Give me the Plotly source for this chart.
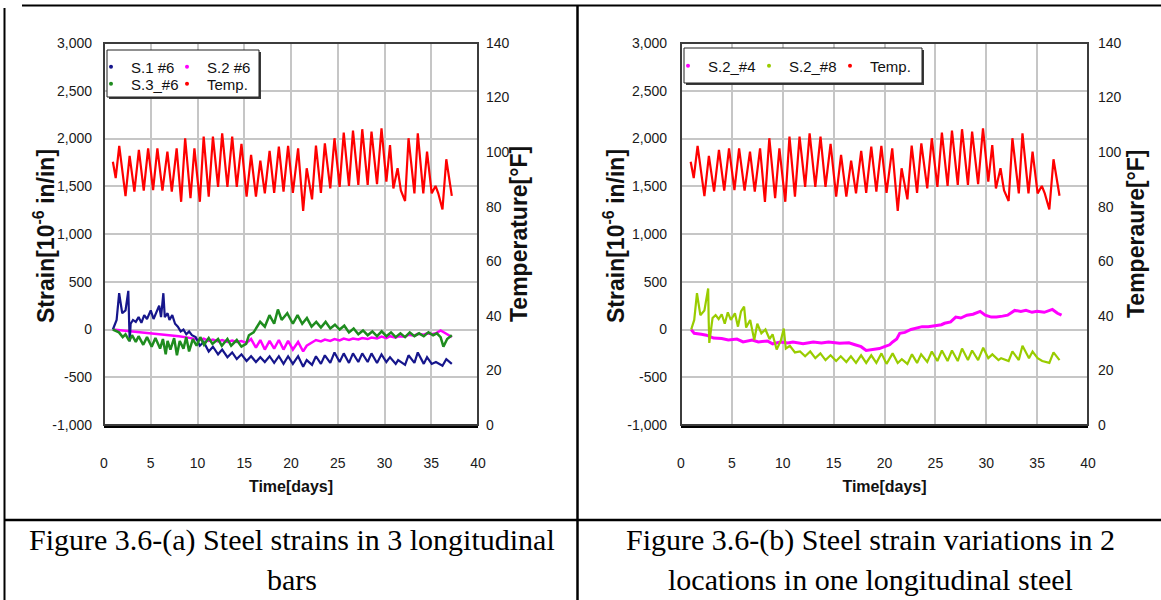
import plotly.graph_objects as go

W, H = 1161, 600

# ---------------- data ----------------
x_ticks = [0, 5, 10, 15, 20, 25, 30, 35, 40]
strain_ticks = [-1000, -500, 0, 500, 1000, 1500, 2000, 2500, 3000]
strain_tick_text = ["-1,000", "-500", "0", "500", "1,000", "1,500", "2,000", "2,500", "3,000"]
temp_ticks = [0, 20, 40, 60, 80, 100, 120, 140]

temp_day = [0.95, 1.25, 1.63, 2.3, 2.74, 3.25, 3.73, 4.25, 4.72, 5.25, 5.71, 6.25, 6.78, 7.25,
            7.77, 8.25, 8.68, 9.25, 9.67, 10.25, 10.66, 11.2, 11.65, 12.2, 12.64, 13.2, 13.71,
            14.2, 14.7, 15.25, 15.73, 16.25, 16.72, 17.2, 17.71, 18.2, 18.7, 19.2, 19.69, 20.2,
            20.76, 21.3, 21.68, 22.25, 22.67, 23.2, 23.62, 24.2, 24.65, 25.2, 25.64, 26.2, 26.63,
            27.2, 27.62, 28.2, 28.61, 29.2, 29.68, 30.2, 30.59, 30.95, 31.4, 31.75, 32.2, 32.57,
            33.2, 33.56, 34.15, 34.55, 35.05, 35.46, 35.75, 36.2, 36.61, 37.2]
temp_f = [96.5, 90.5, 102.3, 83.9, 98.6, 85.5, 100.8, 85.9, 101.4, 86.1, 101.4, 85.9, 100.2, 85.5,
          101.4, 81.8, 105.1, 83.1, 101.4, 81.8, 105.7, 83.7, 105.7, 87.3, 106.9, 87.3, 105.7,
          87.3, 103.0, 83.7, 99.0, 83.7, 96.9, 84.9, 100.5, 85.1, 102.0, 85.5, 102.3, 85.1,
          101.4, 78.5, 94.1, 82.7, 102.4, 85.1, 103.2, 86.7, 105.1, 87.3, 107.2, 87.6, 107.9,
          88.0, 108.4, 88.0, 107.5, 88.3, 108.7, 89.2, 102.6, 86.7, 94.1, 86.0, 82.1, 105.1,
          84.9, 106.9, 84.9, 100.2, 84.9, 87.6, 84.9, 79.0, 97.4, 84.0]

# (day, strain) pairs
s1_6 = [(0.95, 0), (1.35, 100), (1.62, 380), (1.95, 170), (2.3, 200), (2.6, 405), (2.68, 100),
        (2.75, -125), (2.85, 60), (3.1, 100), (3.4, 80), (3.7, 130), (4.0, 70), (4.3, 150),
        (4.6, 110), (5.0, 200), (5.3, 110), (5.6, 180), (5.9, 250), (6.1, 130), (6.35, 380),
        (6.5, 130), (6.8, 170), (7.0, 100), (7.3, 150), (7.6, 60), (7.9, 30), (8.2, -20),
        (8.5, 0), (8.8, -50), (9.1, -20), (9.4, -60), (9.8, -80), (10.25, -170), (10.66, -130),
        (11.2, -230), (11.65, -180), (12.2, -260), (12.64, -210), (13.2, -290), (13.71, -240),
        (14.2, -310), (14.7, -260), (15.25, -330), (15.73, -280), (16.25, -340), (16.72, -290),
        (17.2, -340), (17.71, -280), (18.2, -350), (18.7, -280), (19.2, -360), (19.69, -280),
        (20.2, -360), (20.76, -280), (21.3, -390), (21.68, -320), (22.25, -370), (22.67, -280),
        (23.2, -360), (23.62, -270), (24.2, -350), (24.65, -240), (25.2, -340), (25.64, -250),
        (26.2, -350), (26.63, -250), (27.2, -340), (27.62, -250), (28.2, -340), (28.61, -250),
        (29.2, -350), (29.68, -260), (30.2, -340), (30.59, -290), (31.2, -360), (31.46, -320),
        (32.2, -370), (32.57, -270), (33.2, -350), (33.56, -240), (34.2, -360), (34.55, -290),
        (35.05, -360), (35.5, -340), (36.2, -380), (36.61, -310), (37.2, -360)]

s2_6 = [(0.95, 0), (2, -10), (3, -20), (4, -25), (5, -35), (6, -45), (7, -55), (8, -70), (9, -85),
        (9.8, -100), (10.25, -110), (10.66, -95), (11.2, -120), (11.65, -105), (12.2, -125),
        (12.64, -110), (13.2, -130), (13.71, -115), (14.2, -130), (14.7, -120), (15.25, -140),
        (15.73, -100), (16.25, -190), (16.72, -110), (17.2, -210), (17.71, -120), (18.2, -200),
        (18.7, -110), (19.2, -210), (19.69, -120), (20.2, -210), (20.76, -130), (21.3, -230),
        (21.68, -170), (22.25, -130), (22.67, -110), (23.2, -125), (23.62, -105), (24.2, -120),
        (24.65, -100), (25.2, -115), (25.64, -95), (26.2, -110), (26.63, -95), (27.2, -105),
        (27.62, -90), (28.2, -100), (28.61, -85), (29.2, -95), (29.68, -75), (30.2, -90),
        (30.59, -70), (31.2, -85), (31.46, -70), (32.2, -75), (32.57, -55), (33.2, -65),
        (33.56, -45), (34.2, -55), (34.55, -40), (35.05, -50), (35.5, -40), (36.0, -10),
        (36.3, -30), (36.7, -50), (37.2, -80)]

s3_6 = [(0.95, 0), (1.3, -20), (1.6, -30), (2.0, -80), (2.3, -50), (2.7, -120), (3.0, -60),
        (3.4, -130), (3.7, -70), (4.2, -160), (4.6, -80), (5.1, -180), (5.5, -90), (6.0, -200),
        (6.3, -100), (6.6, -260), (6.8, -120), (7.1, -210), (7.5, -90), (7.8, -270), (8.1, -120),
        (8.5, -200), (8.8, -80), (9.1, -230), (9.5, -100), (9.9, -170), (10.3, -80), (10.7, -160),
        (11.2, -90), (11.6, -150), (12.2, -100), (12.6, -170), (13.2, -100), (13.6, -170),
        (14.2, -110), (14.7, -180), (15.2, -150), (15.5, -60), (16.0, -30), (16.7, 80),
        (17.2, 30), (17.7, 150), (18.2, 60), (18.6, 210), (19.0, 100), (19.6, 170), (20.2, 60),
        (20.7, 150), (21.2, 60), (21.7, 120), (22.2, 30), (22.7, 80), (23.2, 20), (23.7, 80),
        (24.2, 10), (24.7, 50), (25.2, 0), (25.7, 40), (26.2, -30), (26.7, 10), (27.2, -50),
        (27.7, -10), (28.2, -60), (28.7, -20), (29.2, -70), (29.7, -20), (30.2, -70),
        (30.7, -30), (31.2, -80), (31.7, -40), (32.2, -80), (32.7, -30), (33.2, -70),
        (33.7, -40), (34.2, -70), (34.7, -30), (35.2, -60), (35.6, -40), (36.0, -80),
        (36.3, -180), (36.7, -100), (37.2, -60)]

s2_4 = [(1.0, 0), (1.3, -40), (2.0, -50), (2.5, -60), (3.2, -90), (4.0, -95), (4.65, -110),
        (5.5, -100), (6.1, -130), (7.0, -110), (7.6, -130), (8.5, -120), (9.0, -150),
        (9.8, -130), (10.5, -140), (11.0, -130), (12.0, -150), (13.0, -130), (13.8, -140),
        (14.5, -130), (15.6, -145), (16.5, -140), (17.1, -160), (17.7, -180), (18.2, -220),
        (18.9, -210), (19.5, -200), (20.0, -180), (20.5, -160), (20.8, -130), (21.2, -100),
        (21.5, -40), (22.0, -30), (22.6, 0), (23.2, 20), (23.7, 30), (24.3, 30), (25.1, 40),
        (25.6, 50), (25.9, 65), (26.5, 80), (27.0, 130), (27.5, 120), (28.1, 150), (28.7, 160),
        (29.4, 190), (29.9, 150), (30.5, 130), (31.0, 130), (31.6, 140), (32.1, 150),
        (32.8, 200), (33.4, 190), (33.9, 200), (34.5, 180), (35.0, 190), (35.7, 180),
        (36.5, 210), (37.0, 170), (37.4, 150)]

s2_8 = [(1.0, 0), (1.3, 100), (1.57, 380), (1.9, 150), (2.3, 200), (2.67, 430), (2.72, 100),
        (2.78, -140), (3.1, 120), (3.4, 150), (3.7, 110), (4.0, 160), (4.3, 60), (4.6, 180),
        (4.9, 100), (5.3, 170), (5.6, 30), (5.9, 190), (6.2, 240), (6.4, 20), (6.8, 100),
        (7.2, -110), (7.5, 60), (7.9, -40), (8.3, 0), (8.7, -100), (9.0, -50), (9.4, -210),
        (9.8, -120), (10.1, 10), (10.3, -200), (10.7, -170), (11.2, -240), (11.7, -230),
        (12.2, -280), (12.7, -230), (13.2, -300), (13.7, -250), (14.2, -320), (14.7, -270),
        (15.25, -330), (15.7, -280), (16.25, -340), (16.7, -280), (17.2, -350), (17.7, -270),
        (18.2, -350), (18.7, -270), (19.2, -350), (19.7, -250), (20.2, -360), (20.8, -250),
        (21.3, -350), (21.7, -310), (22.25, -360), (22.7, -260), (23.2, -350), (23.6, -260),
        (24.2, -340), (24.65, -230), (25.2, -330), (25.64, -220), (26.2, -330), (26.63, -220),
        (27.2, -330), (27.62, -200), (28.2, -320), (28.61, -220), (29.2, -320), (29.7, -190),
        (30.2, -300), (30.6, -260), (31.2, -320), (31.46, -300), (32.2, -330), (32.57, -230),
        (33.2, -320), (33.56, -170), (34.2, -300), (34.55, -230), (35.05, -300), (35.5, -330),
        (36.2, -350), (36.61, -240), (37.2, -320)]


def unzip(pairs):
    return [p[0] for p in pairs], [p[1] for p in pairs]


def X(px):
    return px / W


def Y(py):
    return 1 - py / H


NAVY = "#16168c"
MAGENTA = "#ff00ff"
GREEN = "#1f8c1f"
RED = "#ff0000"
YGREEN = "#99cc00"
GRID = "#c6c6c6"

SANS = "Liberation Sans, Arial, sans-serif"
TICK_FONT = dict(family=SANS, size=14, color="#1a1a1a")
VT_FONT = dict(family=SANS, size=23, color="#111111", weight="bold")
XT_FONT = dict(family=SANS, size=16, color="#111111", weight="bold")
LEG_FONT = dict(family=SANS, size=15, color="#111111")

fig = go.Figure()

# ---- left chart ----
fig.add_trace(go.Scatter(x=temp_day, y=temp_f, mode="lines", line=dict(color=RED, width=2.2),
                         xaxis="x", yaxis="y2", showlegend=False))
for pairs, col, w in [(s2_6, MAGENTA, 2.5), (s1_6, NAVY, 2.2), (s3_6, GREEN, 2.5)]:
    xs, ys = unzip(pairs)
    fig.add_trace(go.Scatter(x=xs, y=ys, mode="lines", line=dict(color=col, width=w),
                             xaxis="x", yaxis="y", showlegend=False))

# ---- right chart ----
fig.add_trace(go.Scatter(x=temp_day, y=temp_f, mode="lines", line=dict(color=RED, width=2.2),
                         xaxis="x2", yaxis="y4", showlegend=False))
for pairs, col, w in [(s2_4, MAGENTA, 3), (s2_8, YGREEN, 2.2)]:
    xs, ys = unzip(pairs)
    fig.add_trace(go.Scatter(x=xs, y=ys, mode="lines", line=dict(color=col, width=w),
                             xaxis="x2", yaxis="y3", showlegend=False))

# ---- legend entries (marker-style keys like the original), one legend per entry ----
# (name, colour, text-left px, row-centre px)
legend_items = [("S.1 #6", NAVY, 131, 67), ("S.2 #6", MAGENTA, 207, 67),
                ("S.3_#6", GREEN, 131, 84), ("Temp.", RED, 207, 84),
                ("S.2_#4", MAGENTA, 708, 66), ("S.2_#8", YGREEN, 789, 66),
                ("Temp.", RED, 870, 66)]
legend_layout = {}
for i, (name, col, tx, ty) in enumerate(legend_items):
    key = "legend" if i == 0 else f"legend{i + 1}"
    fig.add_trace(go.Scatter(x=[None], y=[None], mode="markers", name=name,
                             marker=dict(color=col, size=4), legend=key,
                             xaxis="x", yaxis="y", showlegend=True))
    legend_layout[key] = dict(x=X(tx - 40), y=Y(ty), xanchor="left", yanchor="middle",
                              orientation="h", itemwidth=30, bgcolor="rgba(0,0,0,0)",
                              borderwidth=0, font=LEG_FONT)

ydom = [Y(425), Y(43)]
xdomL = [X(104), X(478)]
xdomR = [X(681), X(1088)]

common_x = dict(range=[0, 40], tickvals=x_ticks, showgrid=True, gridcolor=GRID, gridwidth=1.5,
                zeroline=False, ticks="", showline=True, linecolor="black", linewidth=2.5,
                tickfont=TICK_FONT, ticklabelstandoff=23, automargin=False,
                title=dict(text="Time[days]", font=XT_FONT, standoff=12))
common_y = dict(range=[-1000, 3000], tickvals=strain_ticks, ticktext=strain_tick_text,
                showgrid=True, gridcolor=GRID, gridwidth=1.5, zeroline=False, ticks="",
                showline=False, tickfont=TICK_FONT, automargin=False, domain=ydom)
common_t = dict(range=[0, 140], tickvals=temp_ticks, showgrid=False, zeroline=False, ticks="",
                showline=False, tickfont=TICK_FONT, automargin=False, side="right")

fig.update_layout(
    width=W, height=H, margin=dict(l=0, r=0, t=0, b=0),
    paper_bgcolor="white", plot_bgcolor="white",
    xaxis=dict(domain=xdomL, anchor="y", **common_x),
    xaxis2=dict(domain=xdomR, anchor="y3", **common_x),
    yaxis=dict(anchor="x", ticklabelstandoff=11, **common_y),
    yaxis2=dict(anchor="x", overlaying="y", ticklabelstandoff=7, **common_t),
    yaxis3=dict(anchor="x2", ticklabelstandoff=13, **common_y),
    yaxis4=dict(anchor="x2", overlaying="y3", ticklabelstandoff=9, **common_t),
    **legend_layout,
)

# vertical axis titles, placed where the original has them
axis_titles = [("Strain[10<sup>-6</sup> in/in]", 44, 236),
               ("Temperature[°F]", 519, 234),
               ("Strain[10<sup>-6</sup> in/in]", 614, 236),
               ("Temperaure[°F]", 1136, 234)]
for text, cx, cy in axis_titles:
    fig.add_annotation(text=text, xref="paper", yref="paper", x=X(cx), y=Y(cy),
                       xanchor="center", yanchor="middle", textangle=-90, showarrow=False,
                       font=VT_FONT)

shapes = []
# plot frames
for xr, yr in [("x domain", "y domain"), ("x2 domain", "y3 domain")]:
    shapes.append(dict(type="rect", xref=xr, yref=yr, x0=0, x1=1, y0=0, y1=1,
                       line=dict(color="#3c3c3c", width=2), fillcolor="rgba(0,0,0,0)",
                       layer="above"))
# legend boxes (with shadow)
for (x0, x1, y0, y1) in [(107, 259, 50, 97), (684, 922, 48, 83)]:
    shapes.append(dict(type="rect", xref="paper", yref="paper", x0=X(x0 + 2), x1=X(x1 + 2),
                       y0=Y(y1 + 2), y1=Y(y0 + 2), line=dict(width=0), fillcolor="#3a3a3a",
                       layer="above"))
    shapes.append(dict(type="rect", xref="paper", yref="paper", x0=X(x0), x1=X(x1),
                       y0=Y(y1), y1=Y(y0), line=dict(color="#222222", width=1),
                       fillcolor="white", layer="above"))
# table rules
for (x0, y0, x1, y1, w) in [(22, 5.5, 1161, 5.5, 2), (4.5, 8, 4.5, 600, 2),
                            (577.5, 5, 577.5, 600, 2.5), (4.5, 520, 1161, 520, 2.5)]:
    shapes.append(dict(type="line", xref="paper", yref="paper", x0=X(x0), x1=X(x1),
                       y0=Y(y0), y1=Y(y1), line=dict(color="black", width=w), layer="above"))
fig.update_layout(shapes=shapes)

CAP_FONT = dict(family="Liberation Serif, Times New Roman, serif", size=30, color="black")
captions = [("Figure 3.6-(a) Steel strains in 3 longitudinal", 291.5, 540),
            ("bars", 291.5, 579),
            ("Figure 3.6-(b) Steel strain variations in 2", 870, 540),
            ("locations in one longitudinal steel", 870, 579)]
for text, cx, cy in captions:
    fig.add_annotation(text=text, xref="paper", yref="paper", x=X(cx), y=Y(cy),
                       xanchor="center", yanchor="middle", showarrow=False, font=CAP_FONT)

fig.write_html("out.html", config={"displayModeBar": False},
               post_script="document.body.style.margin='0';document.body.style.padding='0';"
                           "document.documentElement.style.overflow='hidden';")
